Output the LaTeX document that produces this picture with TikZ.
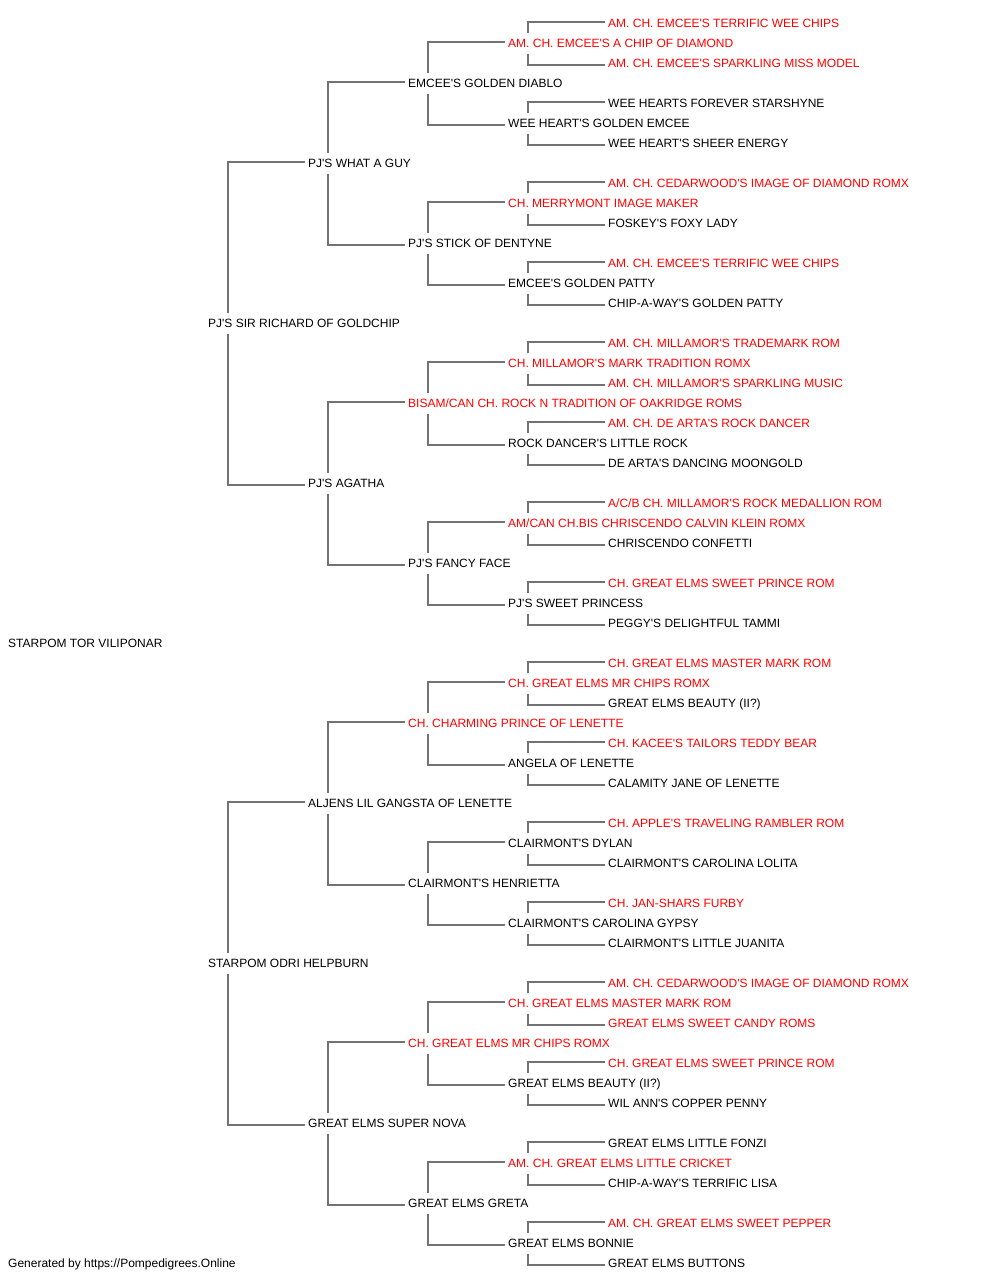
\documentclass[tikz,border=0pt]{standalone}
\usepackage{fontspec}
\setmainfont{Liberation Sans}
\usetikzlibrary{backgrounds}
\definecolor{linegray}{RGB}{115,115,115}
\definecolor{pedred}{RGB}{255,0,0}
\newcommand\apo{\XeTeXglyph\XeTeXcharglyph"0027\relax}
\tikzset{
  pn/.style={anchor=base west, fill=white, inner xsep=0pt, inner ysep=0pt,
    text height=15pt, text depth=6.5pt, font=\fontsize{12}{14}\selectfont},
  ln/.style={pn, text=black},
  hn/.style={pn, text=pedred},
  link/.style={draw=linegray, line width=2pt}
}
\newcommand\kin[3]{\draw[link] ([xshift=-3pt,yshift=1.5pt]#2.west) -| ([xshift=20pt]#1.west) |- ([xshift=-3pt,yshift=-1.5pt]#3.west);}
\begin{document}
\begin{tikzpicture}[x=1pt,y=-1pt]
\useasboundingbox (0,0) rectangle (1000,1280);
\node[hn] (r0) at (608,27.8) {AM. CH. EMCEE\apo S TERRIFIC WEE CHIPS};
\node[hn] (r1) at (508,47.8) {AM. CH. EMCEE\apo S A CHIP OF DIAMOND};
\node[hn] (r2) at (608,67.8) {AM. CH. EMCEE\apo S SPARKLING MISS MODEL};
\node[ln] (r3) at (408,87.8) {EMCEE\apo S GOLDEN DIABLO};
\node[ln] (r4) at (608,107.8) {WEE HEARTS FOREVER STARSHYNE};
\node[ln] (r5) at (508,127.8) {WEE HEART\apo S GOLDEN EMCEE};
\node[ln] (r6) at (608,147.8) {WEE HEART\apo S SHEER ENERGY};
\node[ln] (r7) at (308,167.8) {PJ\apo S WHAT A GUY};
\node[hn] (r8) at (608,187.8) {AM. CH. CEDARWOOD\apo S IMAGE OF DIAMOND ROMX};
\node[hn] (r9) at (508,207.8) {CH. MERRYMONT IMAGE MAKER};
\node[ln] (r10) at (608,227.8) {FOSKEY\apo S FOXY LADY};
\node[ln] (r11) at (408,247.8) {PJ\apo S STICK OF DENTYNE};
\node[hn] (r12) at (608,267.8) {AM. CH. EMCEE\apo S TERRIFIC WEE CHIPS};
\node[ln] (r13) at (508,287.8) {EMCEE\apo S GOLDEN PATTY};
\node[ln] (r14) at (608,307.8) {CHIP-A-WAY\apo S GOLDEN PATTY};
\node[ln] (r15) at (208,327.8) {PJ\apo S SIR RICHARD OF GOLDCHIP};
\node[hn] (r16) at (608,347.8) {AM. CH. MILLAMOR\apo S TRADEMARK ROM};
\node[hn] (r17) at (508,367.8) {CH. MILLAMOR\apo S MARK TRADITION ROMX};
\node[hn] (r18) at (608,387.8) {AM. CH. MILLAMOR\apo S SPARKLING MUSIC};
\node[hn] (r19) at (408,407.8) {BISAM/CAN CH. ROCK N TRADITION OF OAKRIDGE ROMS};
\node[hn] (r20) at (608,427.8) {AM. CH. DE ARTA\apo S ROCK DANCER};
\node[ln] (r21) at (508,447.8) {ROCK DANCER\apo S LITTLE ROCK};
\node[ln] (r22) at (608,467.8) {DE ARTA\apo S DANCING MOONGOLD};
\node[ln] (r23) at (308,487.8) {PJ\apo S AGATHA};
\node[hn] (r24) at (608,507.8) {A/C/B CH. MILLAMOR\apo S ROCK MEDALLION ROM};
\node[hn] (r25) at (508,527.8) {AM/CAN CH.BIS CHRISCENDO CALVIN KLEIN ROMX};
\node[ln] (r26) at (608,547.8) {CHRISCENDO CONFETTI};
\node[ln] (r27) at (408,567.8) {PJ\apo S FANCY FACE};
\node[hn] (r28) at (608,587.8) {CH. GREAT ELMS SWEET PRINCE ROM};
\node[ln] (r29) at (508,607.8) {PJ\apo S SWEET PRINCESS};
\node[ln] (r30) at (608,627.8) {PEGGY\apo S DELIGHTFUL TAMMI};
\node[ln] (r31) at (8,647.8) {STARPOM TOR VILIPONAR};
\node[hn] (r32) at (608,667.8) {CH. GREAT ELMS MASTER MARK ROM};
\node[hn] (r33) at (508,687.8) {CH. GREAT ELMS MR CHIPS ROMX};
\node[ln] (r34) at (608,707.8) {GREAT ELMS BEAUTY (II?)};
\node[hn] (r35) at (408,727.8) {CH. CHARMING PRINCE OF LENETTE};
\node[hn] (r36) at (608,747.8) {CH. KACEE\apo S TAILORS TEDDY BEAR};
\node[ln] (r37) at (508,767.8) {ANGELA OF LENETTE};
\node[ln] (r38) at (608,787.8) {CALAMITY JANE OF LENETTE};
\node[ln] (r39) at (308,807.8) {ALJENS LIL GANGSTA OF LENETTE};
\node[hn] (r40) at (608,827.8) {CH. APPLE\apo S TRAVELING RAMBLER ROM};
\node[ln] (r41) at (508,847.8) {CLAIRMONT\apo S DYLAN};
\node[ln] (r42) at (608,867.8) {CLAIRMONT\apo S CAROLINA LOLITA};
\node[ln] (r43) at (408,887.8) {CLAIRMONT\apo S HENRIETTA};
\node[hn] (r44) at (608,907.8) {CH. JAN-SHARS FURBY};
\node[ln] (r45) at (508,927.8) {CLAIRMONT\apo S CAROLINA GYPSY};
\node[ln] (r46) at (608,947.8) {CLAIRMONT\apo S LITTLE JUANITA};
\node[ln] (r47) at (208,967.8) {STARPOM ODRI HELPBURN};
\node[hn] (r48) at (608,987.8) {AM. CH. CEDARWOOD\apo S IMAGE OF DIAMOND ROMX};
\node[hn] (r49) at (508,1007.8) {CH. GREAT ELMS MASTER MARK ROM};
\node[hn] (r50) at (608,1027.8) {GREAT ELMS SWEET CANDY ROMS};
\node[hn] (r51) at (408,1047.8) {CH. GREAT ELMS MR CHIPS ROMX};
\node[hn] (r52) at (608,1067.8) {CH. GREAT ELMS SWEET PRINCE ROM};
\node[ln] (r53) at (508,1087.8) {GREAT ELMS BEAUTY (II?)};
\node[ln] (r54) at (608,1107.8) {WIL ANN\apo S COPPER PENNY};
\node[ln] (r55) at (308,1127.8) {GREAT ELMS SUPER NOVA};
\node[ln] (r56) at (608,1147.8) {GREAT ELMS LITTLE FONZI};
\node[hn] (r57) at (508,1167.8) {AM. CH. GREAT ELMS LITTLE CRICKET};
\node[ln] (r58) at (608,1187.8) {CHIP-A-WAY\apo S TERRIFIC LISA};
\node[ln] (r59) at (408,1207.8) {GREAT ELMS GRETA};
\node[hn] (r60) at (608,1227.8) {AM. CH. GREAT ELMS SWEET PEPPER};
\node[ln] (r61) at (508,1247.8) {GREAT ELMS BONNIE};
\node[ln] (r62) at (608,1267.8) {GREAT ELMS BUTTONS};
\node[ln] (foot) at (8,1267.8) {Generated by https://Pompedigrees.Online};
\begin{scope}[on background layer]
\foreach \p [evaluate=\p as \s using int(\p-1), evaluate=\p as \d using int(\p+1)] in {1,5,...,61} {\kin{r\p}{r\s}{r\d}}
\foreach \p [evaluate=\p as \s using int(\p-2), evaluate=\p as \d using int(\p+2)] in {3,11,...,59} {\kin{r\p}{r\s}{r\d}}
\foreach \p [evaluate=\p as \s using int(\p-4), evaluate=\p as \d using int(\p+4)] in {7,23,39,55} {\kin{r\p}{r\s}{r\d}}
\foreach \p [evaluate=\p as \s using int(\p-8), evaluate=\p as \d using int(\p+8)] in {15,47} {\kin{r\p}{r\s}{r\d}}
\end{scope}
\end{tikzpicture}
\end{document}
